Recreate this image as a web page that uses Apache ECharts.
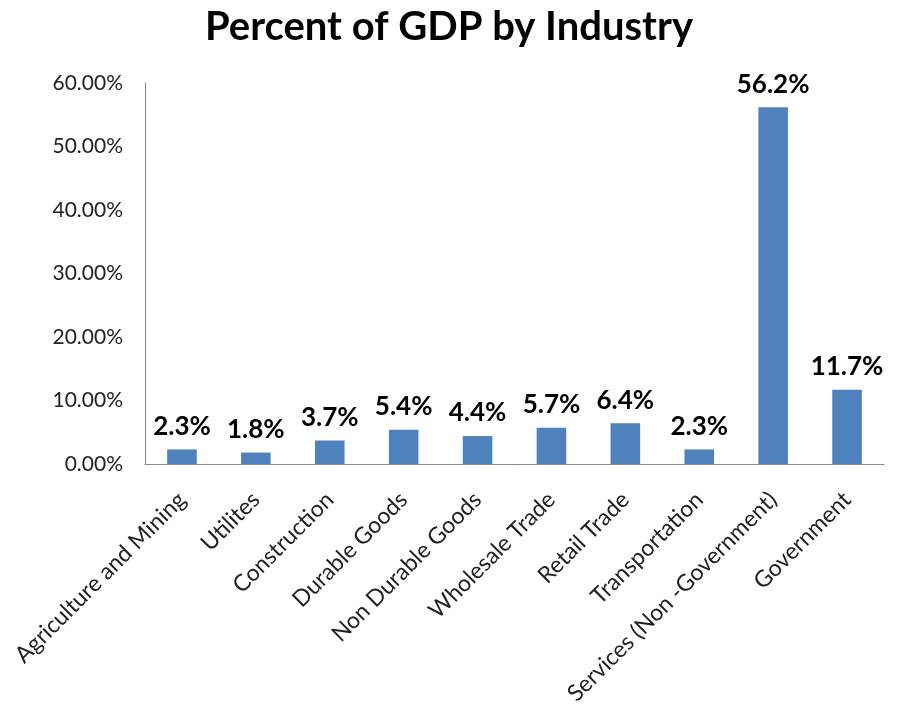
<!DOCTYPE html>
<html>
<head>
<meta charset="utf-8">
<script src="https://cdn.jsdelivr.net/npm/echarts@6/dist/echarts.min.js"></script>
<style>
  html, body { margin: 0; padding: 0; background: #fff; }
  #chart { width: 898px; height: 712px; }
</style>
</head>
<body>
<div id="chart"></div>
<script>
const industries = ['Agriculture and Mining', 'Utilites', 'Construction', 'Durable Goods',
  'Non Durable Goods', 'Wholesale Trade', 'Retail Trade', 'Transportation',
  'Services (Non -Government)', 'Government'];
const gdpShare = [2.3, 1.8, 3.7, 5.4, 4.4, 5.7, 6.4, 2.3, 56.2, 11.7];
const yTicks = [0, 10, 20, 30, 40, 50, 60];

const myChart = echarts.init(document.getElementById('chart'));
const font = 'Lato, "Open Sans", sans-serif';
const option = {
  title: {
    text: 'Percent of GDP by Industry',
    left: 'center',
    top: 2,
    textStyle: { fontFamily: font, fontSize: 40, fontWeight: 'bold', color: '#000' }
  },
  grid: { left: 145, right: 14, top: 83, bottom: 248 },
  xAxis: {
    type: 'category',
    data: industries,
    axisLine: { lineStyle: { color: '#888' } },
    axisTick: { show: false },
    axisLabel: {
      rotate: 45,
      interval: 0,
      margin: 32,
      color: '#222',
      fontFamily: font,
      fontSize: 23
    }
  },
  yAxis: {
    type: 'value',
    min: yTicks[0],
    max: yTicks[yTicks.length - 1],
    interval: 10,
    splitLine: { show: false },
    axisLine: { show: true, lineStyle: { color: '#888' } },
    axisTick: { show: false },
    axisLabel: {
      color: '#222',
      fontFamily: font,
      fontSize: 21,
      margin: 22,
      formatter: v => v.toFixed(2) + '%'
    }
  },
  series: [{
    type: 'bar',
    data: gdpShare,
    barWidth: '40%',
    itemStyle: { color: '#4f81bd' },
    label: {
      show: true,
      position: 'top',
      distance: 10,
      color: '#000',
      fontFamily: font,
      fontSize: 26,
      fontWeight: 'bold',
      formatter: p => p.value.toFixed(1) + '%'
    }
  }]
};
myChart.setOption(option);
</script>
</body>
</html>
